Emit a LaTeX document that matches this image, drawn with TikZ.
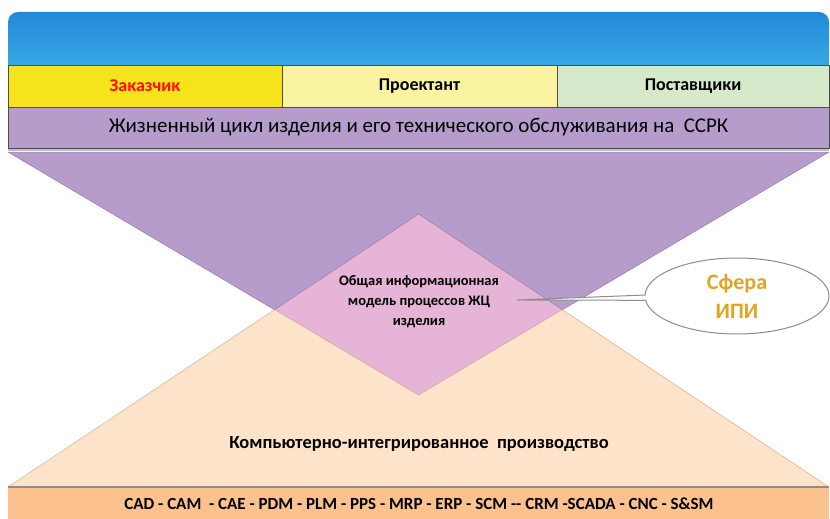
\documentclass[tikz,border=0pt]{standalone}
\usepackage{fontspec}
\setmainfont{Carlito}
\usetikzlibrary{shapes.callouts}

\definecolor{bartop}{HTML}{2389D8}
\definecolor{barbot}{HTML}{3BAEE6}
\definecolor{zakfill}{HTML}{F5E41C}
\definecolor{profill}{HTML}{FAF3A2}
\definecolor{postfill}{HTML}{D6EACB}
\definecolor{lilac}{HTML}{B59CCB}
\definecolor{lilacline}{HTML}{8C6CAE}
\definecolor{peach}{HTML}{FDE3C9}
\definecolor{peachline}{HTML}{C9A888}
\definecolor{rose}{HTML}{E6B4D6}
\definecolor{orangeband}{HTML}{FBC290}
\definecolor{ipi}{HTML}{E2A323}

\tikzset{
  cell/.style={draw=black!70, line width=0.6pt},
  lbl/.style={font=\bfseries\fontsize{18}{20}\selectfont, inner sep=0pt},
}

\begin{document}
\begin{tikzpicture}[x=1pt, y=-1pt]
\useasboundingbox (0,0) rectangle (830,519);

% blue header
\shade[top color=bartop, bottom color=barbot, rounded corners=10pt]
  (8,12) rectangle (829,75);

% participants
\draw[cell, fill=zakfill] (8,65) rectangle (282,107)
  node[midway, lbl, text=red!90!orange] (zak) {Заказчик};
\draw[cell, fill=profill] (282,65) rectangle (557,107)
  node[midway, lbl] (proj) {Проектант};
\draw[cell, fill=postfill] (557,65) rectangle (829,107)
  node[midway, lbl] (post) {Поставщики};

% life cycle band
\draw[cell, fill=lilac] (8,107) rectangle (829,148)
  node[midway, font=\fontsize{21}{24}\selectfont, inner sep=0pt] (cycle)
  {Жизненный цикл изделия и его технического обслуживания на\ \ ССРК};
\draw[black!25, line width=2.5pt] (8,150) -- (829,150);

% two triangles
\filldraw[fill=lilac, draw=lilacline] (8,152) -- (829,152) -- (418.5,395) -- cycle;
\filldraw[fill=peach, draw=peachline] (8,487) -- (418.5,214) -- (829,487) -- cycle;
\begin{scope}
  \clip (8,152) -- (829,152) -- (418.5,395) -- cycle;
  \filldraw[fill=rose, draw=lilacline] (8,487) -- (418.5,214) -- (829,487) -- cycle;
\end{scope}
\draw[peachline] (275,309.6) -- (418.5,395) -- (562,309.6);

\node[align=center, font=\bfseries\fontsize{14.5}{20}\selectfont] (model) at (419,302)
  {Общая информационная\\модель процессов ЖЦ\\изделия};

\node[font=\bfseries\fontsize{18.5}{20}\selectfont] (cim) at (419,444)
  {Компьютерно-интегрированное\ \ производство};

% bottom band
\draw[fill=orangeband, draw=none] (8,487) rectangle (829,519);
\draw[black!45, line width=2pt] (8,487) -- (829,487);
\node[font=\bfseries\fontsize{17}{20}\selectfont] (tools) at (419,504)
  {CAD - CAM\ \ - CAE - PDM - PLM - PPS - MRP - ERP - SCM -{}- CRM -SCADA - CNC - S\&SM};

% callout
\node[ellipse callout, draw=black!45, line width=1pt, fill=white,
  minimum width=184pt, minimum height=76pt, callout pointer arc=8,
  callout absolute pointer={(517,300)}, align=center, text=ipi,
  font=\bfseries\fontsize{22}{29}\selectfont] (ipi) at (737,296)
  {Сфера\\ИПИ};

\end{tikzpicture}
\end{document}
